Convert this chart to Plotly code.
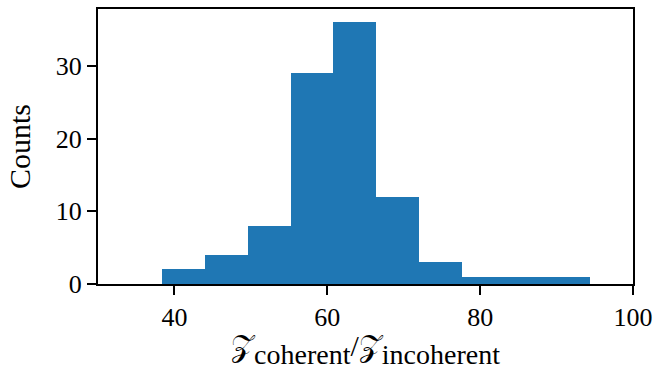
import plotly.graph_objects as go

# Histogram bins (edges) and counts
bin_edges = [38.4, 44.0, 49.6, 55.2, 60.8, 66.4, 72.0, 77.6, 83.2, 88.8, 94.4]
counts = [2, 4, 8, 29, 36, 12, 3, 1, 1, 1]

x_ticks = [40, 60, 80, 100]
y_ticks = [0, 10, 20, 30]

centers = [(a + b) / 2 for a, b in zip(bin_edges[:-1], bin_edges[1:])]
widths = [b - a for a, b in zip(bin_edges[:-1], bin_edges[1:])]

font_family = "Liberation Serif, DejaVu Serif, serif"
z_style = "font-size:30px"

fig = go.Figure(
    go.Bar(
        x=centers,
        y=counts,
        width=widths,
        marker=dict(color="#1f77b4", line=dict(width=0)),
    )
)

axis_common = dict(
    showline=True,
    linecolor="black",
    linewidth=2,
    mirror=True,
    ticks="outside",
    ticklen=9,
    tickwidth=2,
    tickcolor="black",
    showgrid=False,
    zeroline=False,
    automargin=False,
    tickfont=dict(family=font_family, size=26, color="black"),
)

# Subscripts are 70% of the 40px title font, i.e. about 28px
x_title = (
    f"<span style='{z_style}'>𝒵</span><sub>coherent</sub>"
    f"<span style='{z_style}'>/𝒵</span><sub>incoherent</sub>"
)

fig.update_layout(
    width=655,
    height=370,
    margin=dict(l=98, r=22, t=9, b=86),
    plot_bgcolor="white",
    paper_bgcolor="white",
    showlegend=False,
    bargap=0,
    xaxis=dict(
        range=[30, 100],
        tickvals=x_ticks,
        title=dict(
            text=x_title,
            font=dict(family=font_family, size=40, color="black"),
            standoff=0,
        ),
        **axis_common,
    ),
    yaxis=dict(
        range=[0, 37.8],
        tickvals=y_ticks,
        title=dict(
            text="Counts",
            font=dict(family=font_family, size=30, color="black"),
            standoff=16,
        ),
        **axis_common,
    ),
)

fig.write_html("out.html")
